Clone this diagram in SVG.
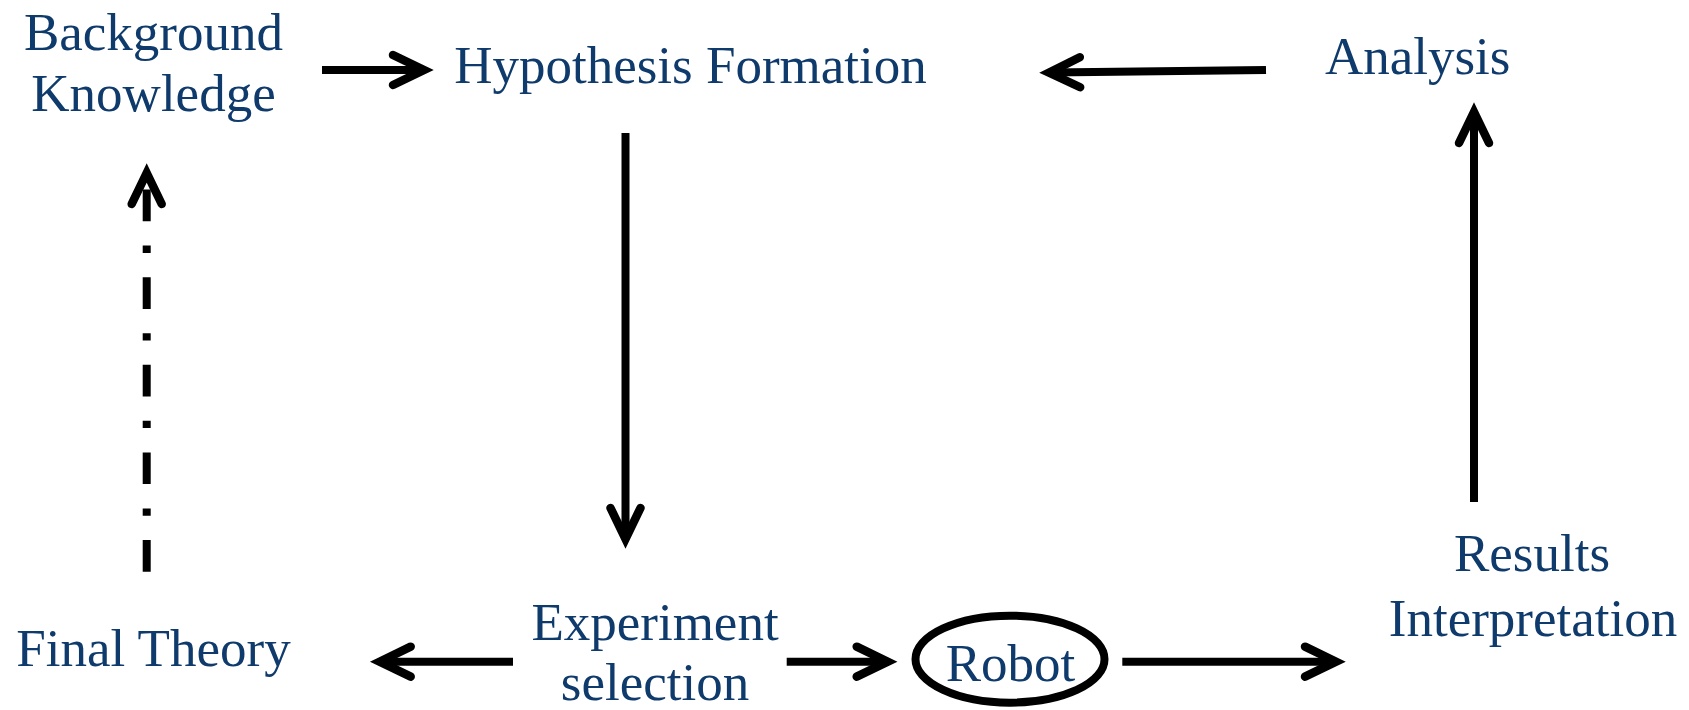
<svg xmlns="http://www.w3.org/2000/svg" width="1689" height="710" viewBox="0 0 1689 710">
<style>
.lbl{font-family:"Liberation Serif","Times New Roman",serif;font-size:53px;fill:#0f3a6c;text-anchor:middle}
.cn{fill:none;stroke:#000;stroke-width:8;stroke-linecap:butt}
.dd{stroke-dasharray:31.7 24.3 7.3 24.3}
.ah{fill:none;stroke:#000;stroke-width:8.5;stroke-linecap:round;stroke-linejoin:miter;stroke-dasharray:none}
</style>
<defs>
<marker id="arr" markerUnits="userSpaceOnUse" orient="auto" refX="0" refY="0" markerWidth="60" markerHeight="60" overflow="visible">
<path class="ah" d="M -29 -15 L 2 0 L -29 15"/>
</marker>
</defs>
<rect width="1689" height="710" fill="#fff"/>
<g id="connectors">
<line class="cn" x1="322" y1="70" x2="422" y2="70" marker-end="url(#arr)"/>
<line class="cn" x1="1266" y1="70" x2="1051" y2="72.6" marker-end="url(#arr)"/>
<line class="cn" x1="625.5" y1="133" x2="625.5" y2="537" marker-end="url(#arr)"/>
<line class="cn" x1="1474" y1="502" x2="1474" y2="114" marker-end="url(#arr)"/>
<line class="cn dd" x1="146.7" y1="571.7" x2="146.7" y2="175" marker-end="url(#arr)"/>
<line class="cn" x1="513" y1="661.7" x2="381.7" y2="661.7" marker-end="url(#arr)"/>
<line class="cn" x1="786.7" y1="661.7" x2="885.7" y2="661.7" marker-end="url(#arr)"/>
<line class="cn" x1="1122.3" y1="661.7" x2="1334" y2="661.7" marker-end="url(#arr)"/>
</g>
<g id="background-knowledge">
<text class="lbl" x="153.5" y="50">Background</text>
<text class="lbl" x="153.5" y="111">Knowledge</text>
</g>
<g id="hypothesis-formation">
<text class="lbl" x="690.5" y="83.3">Hypothesis Formation</text>
</g>
<g id="analysis">
<text class="lbl" x="1417.7" y="74">Analysis</text>
</g>
<g id="final-theory">
<text class="lbl" x="153.5" y="666">Final Theory</text>
</g>
<g id="experiment-selection">
<text class="lbl" x="655" y="640">Experiment</text>
<text class="lbl" x="655" y="700">selection</text>
</g>
<g id="robot">
<ellipse cx="1010" cy="659.2" rx="94.5" ry="43.5" fill="none" stroke="#000" stroke-width="8"/>
<text class="lbl" x="1010.5" y="680.7">Robot</text>
</g>
<g id="results-interpretation">
<text class="lbl" x="1532" y="571">Results</text>
<text class="lbl" x="1533" y="635.5">Interpretation</text>
</g>
</svg>
